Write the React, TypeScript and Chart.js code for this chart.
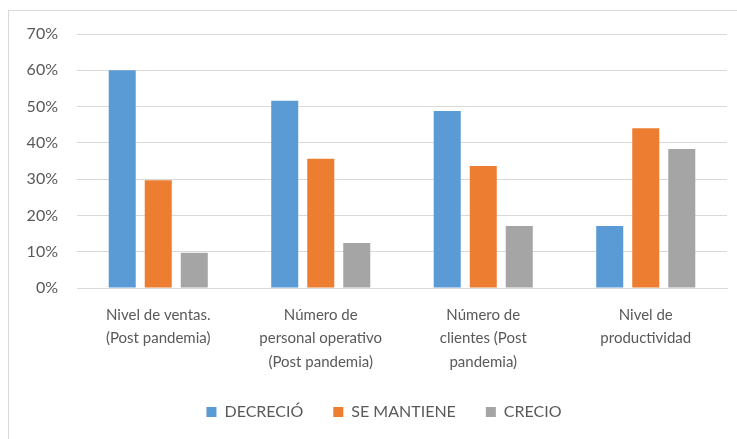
import React, { useEffect, useRef } from "react";
import { Chart, registerables } from "chart.js";

Chart.register(...registerables);

const categories: string[][] = [
  ["Nivel de ventas.", "(Post pandemia)"],
  ["Número de", "personal operativo", "(Post pandemia)"],
  ["Número de", "clientes (Post", "pandemia)"],
  ["Nivel de", "productividad"],
];
const seriesNames = ["DECRECIÓ", "SE MANTIENE", "CRECIO"];
const decrecio = [60, 51.6, 48.8, 17.1];
const seMantiene = [29.7, 35.6, 33.6, 44.0];
const crecio = [9.7, 12.4, 17.1, 38.3];
const yMax = 70;
const yStep = 10;

const COLORS = ["#5B9BD5", "#ED7D31", "#A5A5A5"];
const TEXT = "#595959";
const GRID = "#D9D9D9";
const FONT = "Lato, 'Open Sans', sans-serif";

const shiftLegend = {
  id: "shiftLegend",
  afterLayout(chart: any) {
    const l = chart.legend;
    if (l) {
      l.left += 16;
      l.right += 16;
    }
  },
};

export default function App() {
  const ref = useRef<HTMLCanvasElement | null>(null);

  useEffect(() => {
    if (!ref.current) return;
    const values = [decrecio, seMantiene, crecio];
    const chart = new Chart(ref.current, {
      type: "bar",
      data: {
        labels: categories,
        datasets: seriesNames.map((name, i) => ({
          label: name,
          data: values[i],
          backgroundColor: COLORS[i],
          borderWidth: 0,
          barPercentage: 0.75,
          categoryPercentage: 0.665,
        })),
      },
      plugins: [shiftLegend],
      options: {
        animation: false,
        responsive: false,
        maintainAspectRatio: false,
        layout: { padding: { left: 0, right: 10, top: 10, bottom: 9 } },
        plugins: {
          tooltip: { enabled: false },
          legend: {
            position: "bottom",
            labels: {
              boxWidth: 10,
              boxHeight: 10,
              padding: 30,
              color: TEXT,
              font: { family: FONT, size: 16 },
            },
          },
        },
        scales: {
          x: {
            grid: { display: false },
            border: { display: true, color: GRID, width: 1 },
            ticks: {
              color: TEXT,
              font: { family: FONT, size: 15, lineHeight: 1.57 },
              padding: 7,
              maxRotation: 0,
              autoSkip: false,
            },
            afterFit: (s: any) => {
              s.height = 86;
            },
          },
          y: {
            min: 0,
            max: yMax,
            grid: { color: GRID, lineWidth: 1, drawTicks: false },
            border: { display: false },
            ticks: {
              stepSize: yStep,
              color: TEXT,
              padding: 19,
              font: { family: FONT, size: 16, lineHeight: 0.5 },
              callback: (v: any) => `${v}%`,
            },
            afterFit: (s: any) => {
              s.width = 68;
            },
          },
        },
      },
    });
    return () => chart.destroy();
  }, []);

  return (
    <div
      style={{
        position: "fixed",
        left: 8,
        top: 10,
        width: 729,
        height: 429,
        boxSizing: "border-box",
        borderTop: `1px solid ${GRID}`,
        borderLeft: `1px solid ${GRID}`,
        background: "#fff",
      }}
    >
      <canvas ref={ref} width={728} height={428} style={{ display: "block" }} />
    </div>
  );
}
